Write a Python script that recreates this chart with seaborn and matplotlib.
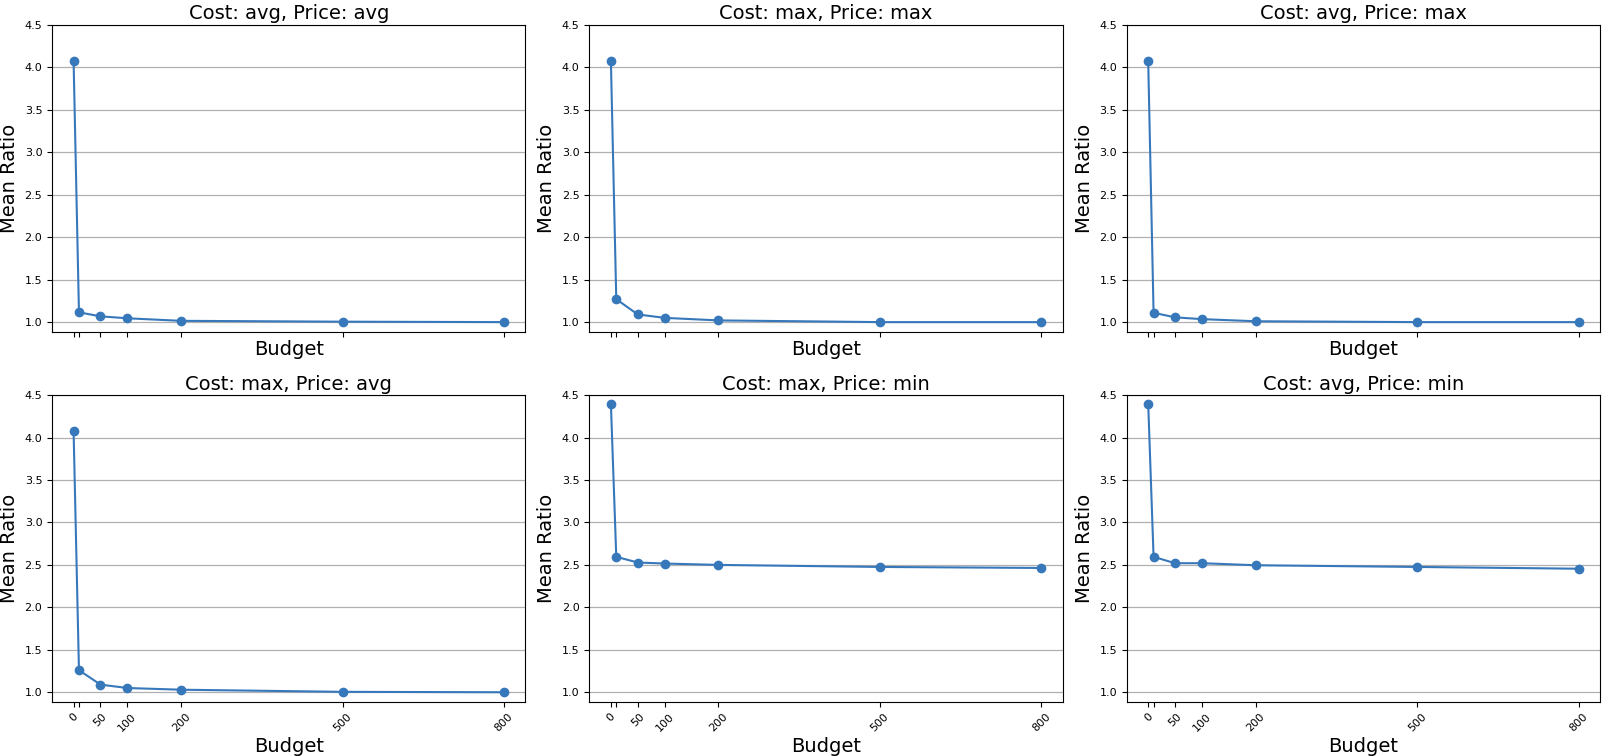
import matplotlib
matplotlib.use("Agg")
import matplotlib.pyplot as plt
import seaborn as sns
import pandas as pd

budgets = [0, 10, 50, 100, 200, 500, 800]
tick_labels = ["0", "", "50", "100", "200", "500", "800"]
yticks = [1.0, 1.5, 2.0, 2.5, 3.0, 3.5, 4.0, 4.5]

titles = [
    "Cost: avg, Price: avg",
    "Cost: max, Price: max",
    "Cost: avg, Price: max",
    "Cost: max, Price: avg",
    "Cost: max, Price: min",
    "Cost: avg, Price: min",
]
avg_avg = [4.08, 1.115, 1.068, 1.045, 1.015, 1.005, 1.0]
max_max = [4.08, 1.27, 1.09, 1.05, 1.02, 1.0, 1.0]
avg_max = [4.08, 1.11, 1.056, 1.035, 1.01, 1.0, 1.0]
max_avg = [4.08, 1.26, 1.09, 1.05, 1.03, 1.005, 1.0]
max_min = [4.40, 2.595, 2.528, 2.516, 2.50, 2.476, 2.464]
avg_min = [4.40, 2.595, 2.52, 2.52, 2.496, 2.476, 2.455]
series = [avg_avg, max_max, avg_max, max_avg, max_min, avg_min]

color = "#3778bb"

fig, axes = plt.subplots(2, 3, figsize=(16.02, 7.56), dpi=100, sharex=True)
fig.subplots_adjust(left=0.0325, right=0.9988, top=0.967, bottom=0.0714,
                    wspace=0.135, hspace=0.206)

for ax, title, vals in zip(axes.flat, titles, series):
    df = pd.DataFrame({"Budget": budgets, "Mean Ratio": vals})
    sns.lineplot(data=df, x="Budget", y="Mean Ratio", ax=ax, color=color,
                 marker="o", markersize=7, markeredgewidth=0, linewidth=1.5)
    ax.set_title(title, fontsize=14, pad=4)
    ax.set_xlabel("Budget", fontsize=14, labelpad=2)
    ax.set_ylabel("Mean Ratio", fontsize=14)
    ax.set_ylim(0.885, 4.5)
    ax.set_yticks(yticks)
    ax.tick_params(axis="y", labelsize=8)
    ax.yaxis.grid(True, color="#b0b0b0", linewidth=0.9)
    ax.set_axisbelow(True)
    ax.set_xticks(budgets)

for ax in axes[1]:
    ax.set_xticklabels(tick_labels, rotation=45, fontsize=8)
    ax.tick_params(axis="x", labelbottom=True)
for ax in axes[0]:
    ax.tick_params(axis="x", labelbottom=False)
    ax.xaxis.label.set_visible(True)

fig.savefig("out.png", dpi=100)
